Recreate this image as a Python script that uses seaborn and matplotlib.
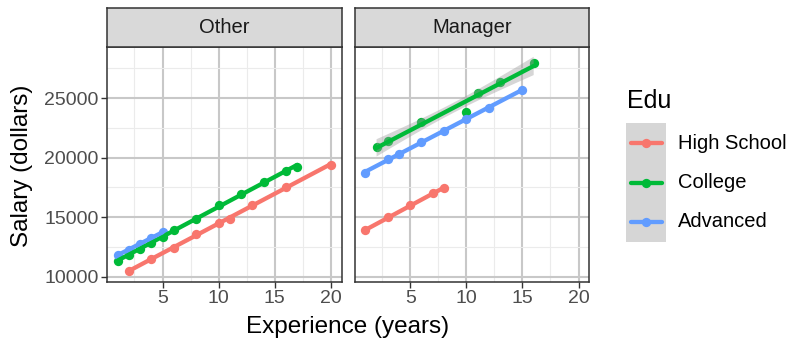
import numpy as np
import pandas as pd
import matplotlib
matplotlib.use("Agg")
import matplotlib.pyplot as plt
from matplotlib.lines import Line2D
from matplotlib.patches import Rectangle
import seaborn as sns

# ---- data -------------------------------------------------------------
panels = ["Other", "Manager"]
edu_levels = ["High School", "College", "Advanced"]
edu_colors = ["#F8766D", "#00BA38", "#619CFF"]

other_hs_exp = [2, 4, 6, 8, 10, 11, 13, 16, 20]
other_hs_sal = [10500, 11500, 12400, 13600, 14550, 14900, 16000, 17550, 19400]
other_col_exp = [1, 2, 3, 4, 5, 6, 8, 10, 12, 14, 16, 17]
other_col_sal = [11350, 11850, 12350, 12880, 13330, 13950, 14870, 16000, 16950, 18000, 18850, 19250]
other_adv_exp = [1, 2, 3, 4, 5]
other_adv_sal = [11850, 12300, 12750, 13300, 13750]

mgr_hs_exp = [1, 3, 5, 7, 8]
mgr_hs_sal = [13900, 15000, 16000, 17000, 17450]
mgr_col_exp = [2, 3, 6, 10, 11, 13, 16]
mgr_col_sal = [20900, 21400, 22950, 23850, 25450, 26350, 27900]
mgr_adv_exp = [1, 3, 4, 6, 8, 10, 12, 15]
mgr_adv_sal = [18750, 19850, 20300, 21350, 22250, 23200, 24200, 25700]

x_ticks = [5, 10, 15, 20]
y_ticks = [10000, 15000, 20000, 25000]

series = {
    ("Other", "High School"): (other_hs_exp, other_hs_sal),
    ("Other", "College"): (other_col_exp, other_col_sal),
    ("Other", "Advanced"): (other_adv_exp, other_adv_sal),
    ("Manager", "High School"): (mgr_hs_exp, mgr_hs_sal),
    ("Manager", "College"): (mgr_col_exp, mgr_col_sal),
    ("Manager", "Advanced"): (mgr_adv_exp, mgr_adv_sal),
}
rows = []
for (panel, edu), (xs, ys) in series.items():
    for xv, yv in zip(xs, ys):
        rows.append({"Panel": panel, "Edu": edu, "Experience": xv, "Salary": yv})
df = pd.DataFrame(rows)

# two-sided 95% Student t quantiles by residual degrees of freedom
T975 = {1: 12.706, 2: 4.303, 3: 3.182, 4: 2.776, 5: 2.571, 6: 2.447, 7: 2.365,
        8: 2.306, 9: 2.262, 10: 2.228, 11: 2.201, 12: 2.179}


def lm_band(x, y, n_grid=80):
    """Fitted line with a pointwise 95% confidence band for the mean."""
    x = np.asarray(x, float)
    y = np.asarray(y, float)
    n = len(x)
    slope, icpt = np.polyfit(x, y, 1)
    resid = y - (icpt + slope * x)
    s = np.sqrt(np.sum(resid ** 2) / (n - 2))
    grid = np.linspace(x.min(), x.max(), n_grid)
    fit = icpt + slope * grid
    se = s * np.sqrt(1 / n + (grid - x.mean()) ** 2 / np.sum((x - x.mean()) ** 2))
    t = T975.get(n - 2, 1.96)
    return grid, fit - t * se, fit + t * se


# ---- style ------------------------------------------------------------
sns.set_style("white")
plt.rcParams["font.family"] = ["Liberation Sans", "DejaVu Sans"]

W, H = 789, 341
fig = plt.figure(figsize=(W / 100, H / 100), dpi=100)

def fx(px):
    return px / W

def fy(py):
    return 1 - py / H

border = "#333333"
panel_left = [107, 354.7]
panel_w = 234.5
panel_top, panel_bot = 46.7, 282
strip_top = 8.3

xlim = (0.05, 20.95)
ylim = (9580, 29300)

for i, panel in enumerate(panels):
    lx = panel_left[i]
    ax = fig.add_axes([fx(lx), fy(panel_bot), panel_w / W, (panel_bot - panel_top) / H])
    ax.set_xlim(*xlim)
    ax.set_ylim(*ylim)
    ax.set_xticks(x_ticks)
    ax.set_xticks([2.5, 7.5, 12.5, 17.5], minor=True)
    ax.set_yticks(y_ticks)
    ax.set_yticks([12500, 17500, 22500, 27500], minor=True)
    ax.grid(True, which="major", color="#C8C8C8", lw=1.5)
    ax.grid(True, which="minor", color="#EBEBEB", lw=0.8)
    ax.set_axisbelow(True)
    for s in ax.spines.values():
        s.set_color(border)
        s.set_linewidth(1.1)
    ax.tick_params(axis="both", which="major", direction="out", length=4, width=1.0,
                   color=border, labelsize=14, labelcolor="#4D4D4D", pad=2,
                   bottom=True, left=(i == 0))
    ax.tick_params(which="minor", length=0)
    if i > 0:
        ax.set_yticklabels([])

    sub = df[df["Panel"] == panel]
    for edu, col in zip(edu_levels, edu_colors):
        d = sub[sub["Edu"] == edu]
        sns.regplot(data=d, x="Experience", y="Salary", ax=ax, color=col,
                    ci=None, truncate=True,
                    scatter_kws={"s": 45, "alpha": 1, "linewidths": 0, "zorder": 3},
                    line_kws={"lw": 3.1, "zorder": 4})
        # grey confidence band over the points, under the fitted line
        gx, lo, hi = lm_band(d["Experience"], d["Salary"])
        ax.fill_between(gx, lo, hi, facecolor=(0.6, 0.6, 0.6), alpha=0.4,
                        edgecolor="none", zorder=3.5)
    ax.set_xlabel("")
    ax.set_ylabel("")

    # facet strip
    sx = fig.add_axes([fx(lx), fy(panel_top), panel_w / W, (panel_top - strip_top) / H])
    sx.set_facecolor("#D9D9D9")
    sx.set_xticks([])
    sx.set_yticks([])
    for s in sx.spines.values():
        s.set_color(border)
        s.set_linewidth(1.1)
    sx.text(0.5, 0.5, panel, ha="center", va="center", fontsize=14.5, color="#1A1A1A",
            transform=sx.transAxes)

# axis titles
fig.text(fx(348), fy(327), "Experience (years)", ha="center", va="center", fontsize=17.5, color="black")
fig.text(fx(22), fy(166), "Salary (dollars)", ha="center", va="center", fontsize=17.5,
         color="black", rotation=90)

# legend
fig.text(fx(627), fy(101), "Edu", ha="left", va="center", fontsize=18, color="black")
fig.patches.append(Rectangle((fx(626), fy(242)), 40 / W, 119 / H, transform=fig.transFigure,
                             facecolor="#D6D6D6", edgecolor="none", figure=fig))
key_y = [143.3, 182.7, 221.7]
for edu, col, ky in zip(edu_levels, edu_colors, key_y):
    fig.lines.append(Line2D([fx(630.7), fx(661.7)], [fy(ky), fy(ky)], transform=fig.transFigure,
                            color=col, lw=3.1, figure=fig))
    fig.lines.append(Line2D([fx(646.2)], [fy(ky)], transform=fig.transFigure, marker="o",
                            markersize=6.7, markeredgewidth=0, color=col, figure=fig))
    fig.text(fx(678), fy(ky), edu, ha="left", va="center", fontsize=14.5, color="black")

fig.savefig("out.png", dpi=100)
